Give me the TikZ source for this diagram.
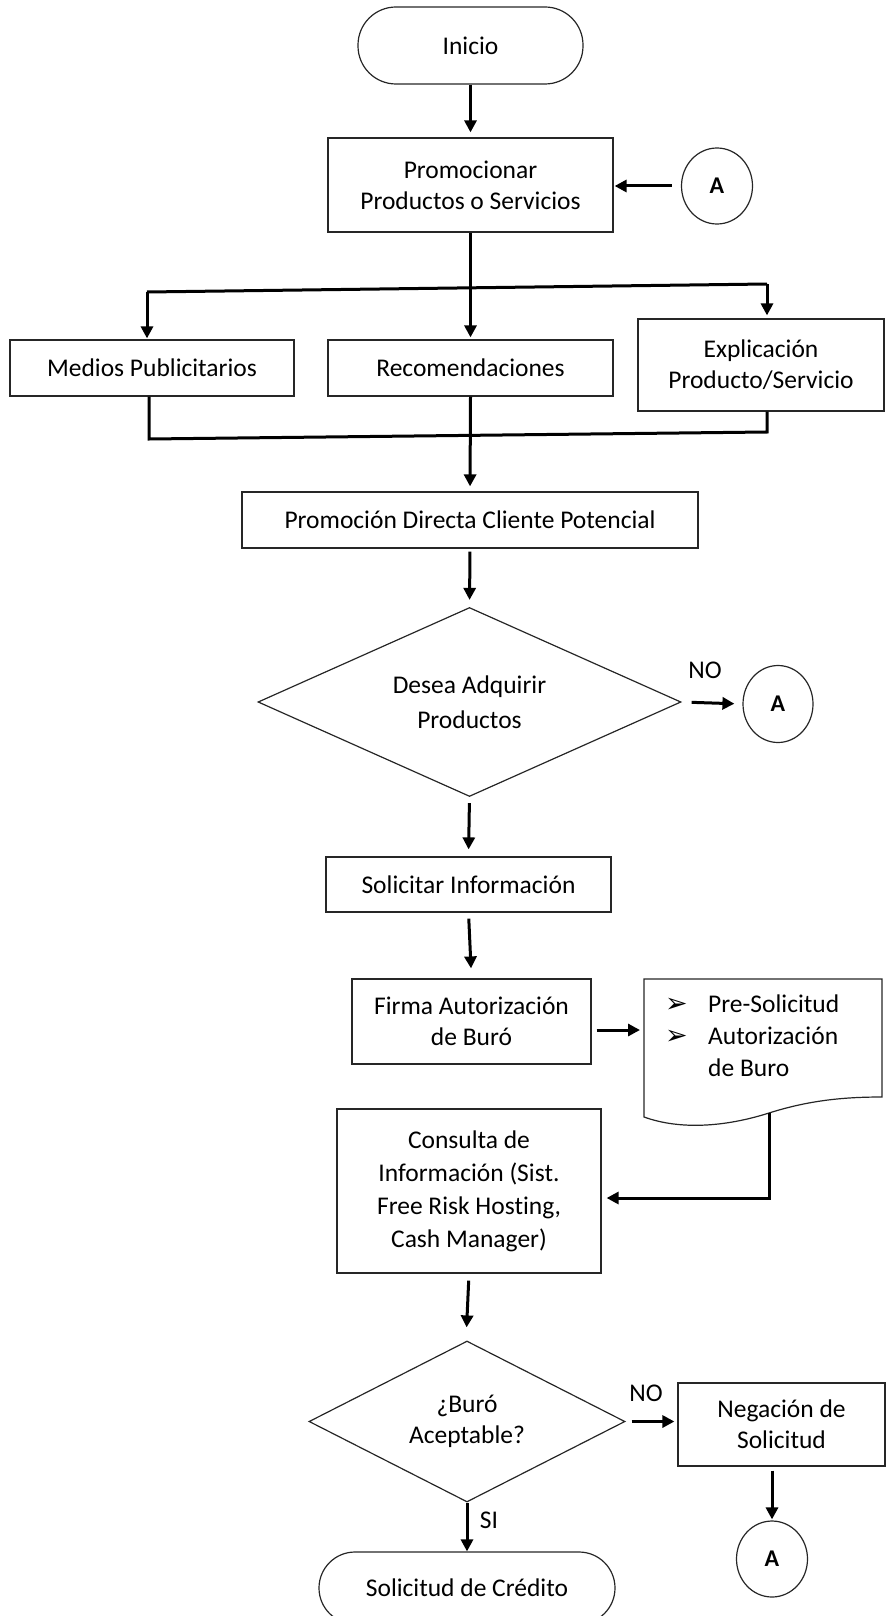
\documentclass[tikz,border=0pt]{standalone}
\usepackage{fontspec}
\setmainfont{Carlito}[Ligatures=NoCommon]
\newfontfamily\symfont{DejaVu Sans}
\usetikzlibrary{shapes.geometric,arrows.meta,calc}

\newcommand\diagtxt{\fontsize{25.5}{31}\selectfont}
\newcommand\bul{\makebox[43pt][l]{\symfont\fontsize{27}{31}\selectfont ➢}}

\begin{document}
\begin{tikzpicture}[x=1pt,y=-1pt,
  box/.style={draw=black!85, line width=1.2pt, rectangle, inner sep=0pt, align=center, font=\diagtxt},
  term/.style={box},
  dec/.style={box, diamond, aspect=2},
  conn/.style={draw, line width=3pt, -{Triangle[length=12pt,width=12pt]}},
  link/.style={draw, line width=3pt},
  con/.style={draw=black!85, line width=1.2pt, ellipse, inner sep=0pt,
              minimum width=71pt, minimum height=76pt,
              font=\bfseries\fontsize{24}{28}\selectfont},
  lbl/.style={inner sep=0pt, font=\diagtxt}
]
\useasboundingbox (0,0) rectangle (886,1616);

% ---------- nodes ----------
\node[term, rounded corners=38pt, minimum width=225pt, minimum height=77pt] (inicio) at (470.5,45.5) {Inicio};
\node[box, minimum width=285pt, minimum height=94pt] (promo) at (470.5,185) {Promocionar\\Productos o Servicios};
\node[con] (a1) at (717,186) {A};

\node[box, minimum width=284pt, minimum height=56pt] (medios) at (152,368) {Medios Publicitarios};
\node[box, minimum width=285pt, minimum height=56pt] (recom) at (470.5,368) {Recomendaciones};
\node[box, minimum width=246pt, minimum height=92pt] (explic) at (761,365) {Explicación\\Producto/Servicio};

\node[box, minimum width=456pt, minimum height=56pt] (promoD) at (470,520) {Promoción Directa Cliente Potencial};

\node[dec, minimum width=423pt, minimum height=189pt, font=\fontsize{25.5}{35}\selectfont] (dec1) at (469.5,702) {Desea Adquirir\\Productos};
\node[lbl] (no1) at (705,670) {NO};
\node[con, minimum width=70pt, minimum height=77pt] (a2) at (778,704) {A};

\node[box, minimum width=285pt, minimum height=55pt] (solic) at (468.5,884.5) {Solicitar Información};
\node[box, minimum width=239pt, minimum height=85pt] (firma) at (471.5,1021.5) {Firma Autorización\\de Buró};

% document symbol
\coordinate (dnw) at (644,979);
\coordinate (dne) at (882,979);
\coordinate (dse) at (882,1097);
\coordinate (dsw) at (644,1117);
\coordinate (docout) at (769,1113);
\coordinate (docin) at (644,1030);
\draw[draw=black!85, line width=1.2pt]
  (dsw) -- (dnw) -- (dne) -- (dse)
  .. controls (845,1097) and (810,1100) .. (769,1113)
  .. controls (725,1127) and (680,1130) .. (dsw) -- cycle;
\node[inner sep=0pt, anchor=north west, align=left, font=\fontsize{25.5}{32}\selectfont] (doc) at (665,995)
  {\bul Pre-Solicitud\\\bul Autorización\\\hspace*{43pt}de Buro};

\node[box, minimum width=264pt, minimum height=164pt, font=\fontsize{25.5}{33}\selectfont] (consulta) at (469,1191)
  {Consulta de\\Información (Sist.\\Free Risk Hosting,\\Cash Manager)};

\node[dec, minimum width=316pt, minimum height=161pt] (dec2) at (467,1421.5) {¿Buró\\Aceptable?};
\node[lbl] (no2) at (646,1393) {NO};
\node[box, minimum width=207pt, minimum height=83pt] (neg) at (781.5,1424.5) {Negación de\\Solicitud};
\node[con] (a3) at (772,1559) {A};
\node[lbl] (si) at (489,1520) {SI};
\node[term, rounded corners=36pt, minimum width=296pt, minimum height=72pt] (credito) at (467,1588) {Solicitud de Crédito};

% ---------- connectors ----------
\draw[conn, shorten >=5pt] (inicio.south) -- (promo.north);
\draw[conn, shorten <=9pt, shorten >=1pt] (a1.west) -- (a1.west -| promo.east);

% branching to the three promotion channels
\coordinate (bl) at (147,292);
\coordinate (br) at (767,284);
\draw[link] (bl) -- (br);
\draw[conn, shorten >=2pt] (promo.south) -- (recom.north);
\draw[conn, shorten >=1pt] (bl) -- (bl |- medios.north);
\draw[conn, shorten >=3pt] (br) -- (br |- explic.north);

% joining back
\coordinate (ml) at (149,439);
\coordinate (mr) at (767,432);
\draw[link] (ml |- medios.south) -- (ml) -- (mr) -- (mr |- explic.south);
\draw[conn, shorten >=5pt] (recom.south) -- (promoD.north);

\draw[conn, shorten <=3pt, shorten >=7pt] (promoD.south) -- (dec1.north);
\draw[conn, shorten <=10pt, shorten >=8pt] (dec1.east) -- (a2.west);
\draw[conn, shorten <=6pt, shorten >=7pt] (dec1.south) -- (solic.north);
\draw[conn, shorten <=6pt, shorten >=10pt] (solic.south) -- (firma.north);
\draw[conn, shorten <=5pt, shorten >=4pt] ($(firma.east)+(0,8.5)$) -- (docin);
\draw[conn, shorten >=5pt] (docout) |- ($(consulta.east)+(0,7)$);
\draw[conn, shorten <=7pt, shorten >=13pt] (consulta.south) -- ($(dec2.north)+(-1,0)$);
\draw[conn, shorten <=6pt, shorten >=3pt] (dec2.east) -- (dec2.east -| neg.west);
\draw[conn, shorten <=4pt, shorten >=1pt] ($(neg.south)+(-9.5,0)$) -- (a3.north);
\draw[conn] (dec2.south) -- (credito.north);
\end{tikzpicture}
\end{document}
